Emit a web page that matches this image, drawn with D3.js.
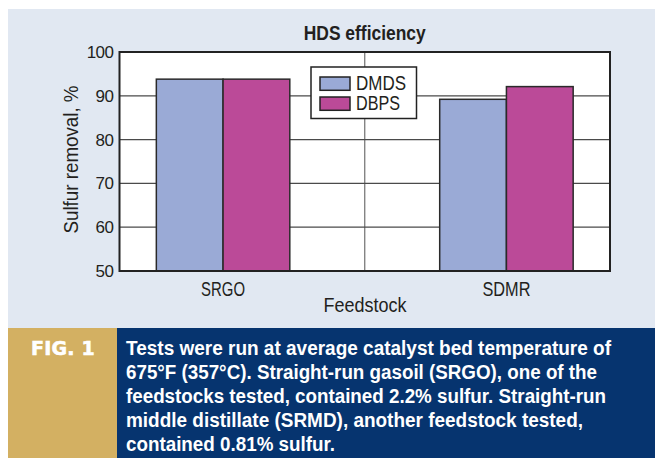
<!DOCTYPE html>
<html>
<head>
<meta charset="utf-8">
<script src="https://cdn.jsdelivr.net/npm/d3@7"></script>
<style>
  html, body { margin: 0; padding: 0; background: #ffffff; }
  svg { display: block; }
  text { font-family: "Liberation Sans", Arial, sans-serif; }
  text.fig { font-family: "DejaVu Sans", sans-serif; }
</style>
</head>
<body>
<svg id="chart" width="655" height="458"></svg>
<script>
// ---- data ----
const categories = ["SRGO", "SDMR"];
const seriesNames = ["DMDS", "DBPS"];
const dmdsValues = [93.8, 89.2];
const dbpsValues = [93.8, 92.1];
const yTicks = [50, 60, 70, 80, 90, 100];
const chartTitle = "HDS efficiency";
const xTitle = "Feedstock";
const yTitle = "Sulfur removal, %";
const figLabel = "FIG. 1";
const captionLines = [
  "Tests were run at average catalyst bed temperature of",
  "675°F (357°C). Straight-run gasoil (SRGO), one of the",
  "feedstocks tested, contained 2.2% sulfur. Straight-run",
  "middle distillate (SRMD), another feedstock tested,",
  "contained 0.81% sulfur."
];
// condensed-type widths (the original uses a condensed face)
const captionWidths = [485, 471, 480, 457, 209];
const categoryWidths = [44, 48];
const seriesWidths = [50, 44];

const seriesValues = { DMDS: dmdsValues, DBPS: dbpsValues };
const colors = { DMDS: "#9aaad6", DBPS: "#bb4a98" };
const ink = "#231f20";

const svg = d3.select("#chart");
function condense(sel, w) {
  return sel.attr("textLength", w).attr("lengthAdjust", "spacingAndGlyphs");
}

// background panel
svg.append("rect").attr("x", 8).attr("y", 9).attr("width", 647).attr("height", 319).attr("fill", "#e1e8f2");
// caption band
svg.append("rect").attr("x", 8).attr("y", 328).attr("width", 109).attr("height", 130).attr("fill", "#d3b062");
svg.append("rect").attr("x", 117).attr("y", 328).attr("width", 538).attr("height", 130).attr("fill", "#06346f");

const plot = { left: 119.5, right: 610, top: 52, bottom: 271 };

const y = d3.scaleLinear().domain([50, 100]).range([plot.bottom, plot.top]);
const x = d3.scaleBand().domain(categories).range([plot.left, plot.right]).paddingInner(0.529).paddingOuter(0.13);
const xs = d3.scaleBand().domain(seriesNames).range([0, x.bandwidth()]).padding(0);

// plot area
svg.append("rect").attr("x", plot.left).attr("y", plot.top)
  .attr("width", plot.right - plot.left).attr("height", plot.bottom - plot.top).attr("fill", "#ffffff");

// vertical grid line between groups
const midX = (x(categories[0]) + x.bandwidth() / 2 + x(categories[1]) + x.bandwidth() / 2) / 2;
svg.append("line").attr("x1", midX).attr("x2", midX).attr("y1", plot.top).attr("y2", plot.bottom)
  .attr("stroke", "#6f6f6f").attr("stroke-width", 1.2);

// horizontal grid
svg.append("g").selectAll("line").data(yTicks.filter(t => t > 50 && t < 100)).join("line")
  .attr("x1", plot.left).attr("x2", plot.right)
  .attr("y1", d => y(d)).attr("y2", d => y(d))
  .attr("stroke", "#4a4a4a").attr("stroke-width", 1.2);

// bars
const groups = svg.append("g").selectAll("g").data(categories).join("g")
  .attr("transform", d => `translate(${x(d)},0)`);
groups.selectAll("rect").data((d, i) => seriesNames.map(s => ({ s, v: seriesValues[s][i] }))).join("rect")
  .attr("x", d => xs(d.s)).attr("width", xs.bandwidth())
  .attr("y", d => y(d.v)).attr("height", d => y(50) - y(d.v))
  .attr("fill", d => colors[d.s]).attr("stroke", "#2a2a2a").attr("stroke-width", 1.5);

// plot border
svg.append("rect").attr("x", plot.left).attr("y", plot.top)
  .attr("width", plot.right - plot.left).attr("height", plot.bottom - plot.top)
  .attr("fill", "none").attr("stroke", "#222").attr("stroke-width", 2);

// y axis labels
const yAxis = d3.axisLeft(y).tickValues(yTicks).tickSize(0).tickPadding(6);
const ya = svg.append("g").attr("transform", `translate(${plot.left},0)`).call(yAxis);
ya.select(".domain").remove();
ya.selectAll("text").attr("font-size", 17).attr("fill", ink).attr("letter-spacing", -0.5);

// x axis labels
const xAxis = d3.axisBottom(x).tickSize(0).tickPadding(0);
const xa = svg.append("g").attr("transform", `translate(0,${plot.bottom})`).call(xAxis);
xa.select(".domain").remove();
xa.selectAll("text").attr("font-size", 19.5).attr("fill", ink)
  .attr("dy", null).attr("y", 25)
  .attr("textLength", (d, i) => categoryWidths[i]).attr("lengthAdjust", "spacingAndGlyphs");

// titles
condense(svg.append("text").attr("x", midX).attr("y", 40).attr("text-anchor", "middle")
  .attr("font-size", 19.5).attr("font-weight", "bold").attr("fill", ink).text(chartTitle), 122);
condense(svg.append("text").attr("x", 365).attr("y", 312).attr("text-anchor", "middle")
  .attr("font-size", 21).attr("fill", ink).text(xTitle), 83);
condense(svg.append("text").attr("transform", `translate(78,${(plot.top + plot.bottom) / 2 - 2}) rotate(-90)`)
  .attr("text-anchor", "middle").attr("font-size", 20.5).attr("fill", ink).text(yTitle), 148);

// legend
const lg = svg.append("g").attr("transform", "translate(311,67)");
lg.append("rect").attr("width", 105.5).attr("height", 51.5).attr("fill", "#fff").attr("stroke", "#222").attr("stroke-width", 1.5);
const li = lg.selectAll("g").data(seriesNames).join("g").attr("transform", (d, i) => `translate(0,${10 + i * 20})`);
li.append("rect").attr("x", 9).attr("width", 30).attr("height", 13.3).attr("fill", d => colors[d])
  .attr("stroke", "#222").attr("stroke-width", 1.5);
li.append("text").attr("x", 45).attr("y", 13.3).attr("font-size", 19.5)
  .attr("fill", ink).text(d => d)
  .attr("textLength", (d, i) => seriesWidths[i]).attr("lengthAdjust", "spacingAndGlyphs");

// caption
svg.append("text").attr("class", "fig").attr("x", 31).attr("y", 355)
  .attr("font-weight", "bold").attr("font-size", 19).attr("fill", "#ffffff").attr("letter-spacing", 0.2)
  .attr("stroke", "#ffffff").attr("stroke-width", 0.6).text(figLabel);
svg.append("g").selectAll("text").data(captionLines).join("text")
  .attr("x", 126).attr("y", (d, i) => 355 + i * 24)
  .attr("font-size", 20).attr("font-weight", "bold").attr("fill", "#ffffff")
  .attr("textLength", (d, i) => captionWidths[i]).attr("lengthAdjust", "spacingAndGlyphs")
  .text(d => d);
</script>
</body>
</html>
